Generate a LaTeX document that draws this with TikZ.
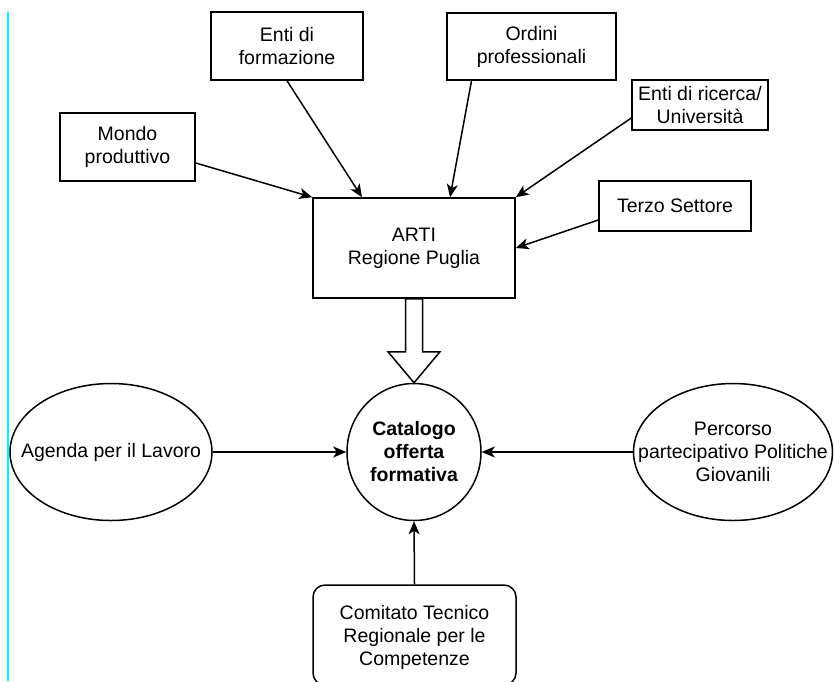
\documentclass[tikz,border=0pt]{standalone}
\usepackage{fontspec}
\setmainfont{Liberation Sans}
\usetikzlibrary{arrows.meta,calc,shapes.geometric}
\definecolor{edgecyan}{RGB}{0,240,255}

\tikzset{
  box/.style={draw,line width=1.5pt,align=center,inner sep=0pt},
  oval/.style={draw,ellipse,line width=1.5pt,inner sep=0pt},
  arr/.style={line width=1.5pt,-{Stealth[length=13pt,width=11pt,inset=3.5pt]}}
}

\begin{document}
\begin{tikzpicture}[x=1pt,y=-1pt,font=\fontsize{19.5}{23}\selectfont]
\useasboundingbox (0,0) rectangle (834,681);
\clip (0,0) rectangle (834,681);
\draw[edgecyan,line width=1.6pt] (8,12)--(8,681);
% sources
\node[box,minimum width=152pt,minimum height=68pt] (ente) at (287,46) {Enti di\\formazione};
\node[box,minimum width=169pt,minimum height=67pt] (ordini) at (531.5,46.5) {Ordini\\professionali};
\node[box,minimum width=135pt,minimum height=68pt] (mondo) at (127.5,147) {Mondo\\produttivo};
\node[box,minimum width=136pt,minimum height=50pt] (ricerca) at (700,105) {Enti di ricerca/\\Università};
\node[box,minimum width=152pt,minimum height=50pt] (terzo) at (675,206) {Terzo Settore};
\node[box,minimum width=202pt,minimum height=100pt] (arti) at (414,248) {ARTI\\Regione Puglia};
% catalogo
\node[oval,minimum width=134pt,minimum height=137pt,
  label={[align=center,font=\fontsize{19.5}{23}\selectfont\bfseries]center:Catalogo\\offerta\\formativa}] (cat) at (414,452) {};
\node[oval,minimum width=202pt,minimum height=137pt,
  label={[align=center]center:Agenda per il Lavoro}] (agenda) at (111,452) {};
\node[oval,minimum width=199pt,minimum height=137pt,
  label={[align=center]center:Percorso\\partecipativo Politiche\\Giovanili}] (percorso) at (733,452) {};
\node[box,rounded corners=12pt,minimum width=203pt,minimum height=100pt,text depth=0pt] (comitato) at (414.5,635) {Comitato Tecnico\\Regionale per le\\Competenze};
\draw[arr] ([yshift=-16pt]mondo.east) -- (arti.north west);
\draw[arr] (ente.south) -- ([xshift=-52pt]arti.north);
\draw[arr] ([xshift=-60pt]ordini.south) -- ([xshift=36pt]arti.north);
\draw[arr] ([yshift=-13pt]ricerca.west) -- (arti.north east);
\draw[arr] ([yshift=-14pt]terzo.west) -- (arti.east);
\draw[arr] (agenda.east) -- (cat.west);
\draw[arr] (percorso.west) -- (cat.east);
\draw[arr] (comitato.north) -- (cat.south);
% big hollow arrow
\draw[line width=1.5pt,fill=white] ($(arti.south)+(-8.5,0)$) -- ($(arti.south)+(8.5,0)$)
  -- ($(cat.north)+(8.5,-31)$) -- ($(cat.north)+(26,-31)$) -- (cat.north)
  -- ($(cat.north)+(-26,-31)$) -- ($(cat.north)+(-8.5,-31)$) -- cycle;
\end{tikzpicture}
\end{document}
